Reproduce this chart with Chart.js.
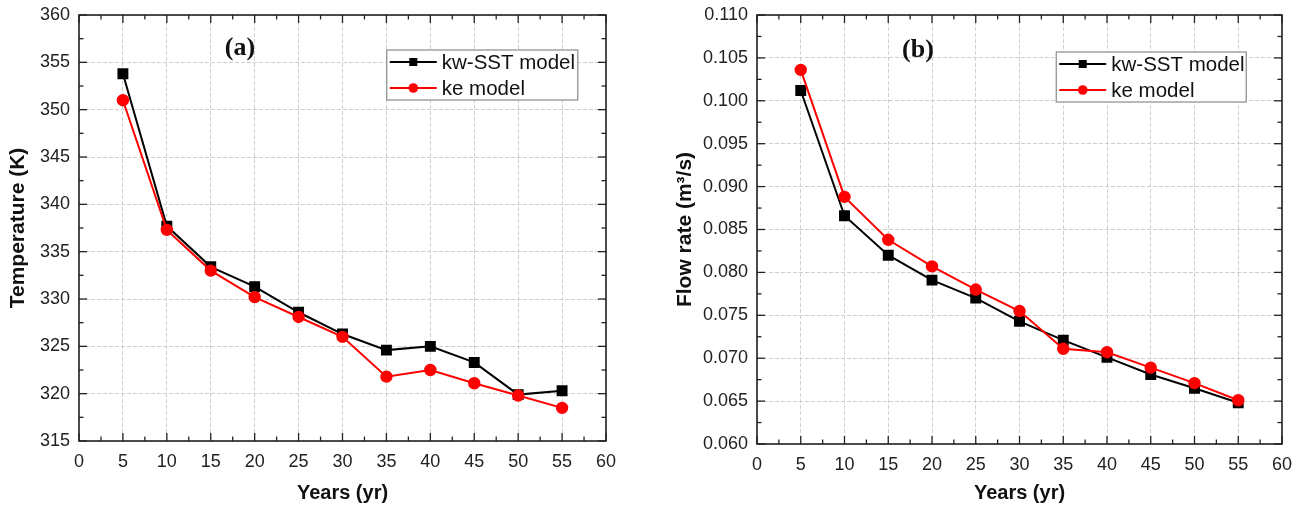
<!DOCTYPE html>
<html>
<head>
<meta charset="utf-8">
<script src="https://cdn.jsdelivr.net/npm/chart.js@4.4.1/dist/chart.umd.min.js"></script>
<style>
  html, body { margin: 0; padding: 0; background: #fff; }
  #wrap { position: relative; width: 1304px; height: 505px; overflow: hidden; }
  .panel { position: absolute; top: 0; }
  #pa { left: 0; }
  #pb { left: 664px; }
</style>
</head>
<body>
<div id="wrap">
  <div class="panel" id="pa"><canvas id="ca" width="640" height="505"></canvas></div>
  <div class="panel" id="pb"><canvas id="cb" width="640" height="505"></canvas></div>
</div>
<script>
// Simulation years
const years = [5, 10, 15, 20, 25, 30, 35, 40, 45, 50, 55];

// Outlet temperature (K)
const tempSST = [353.8, 337.7, 333.4, 331.3, 328.6, 326.3, 324.6, 325.0, 323.3, 319.9, 320.3];
const tempKE  = [351.0, 337.3, 333.0, 330.2, 328.1, 326.0, 321.8, 322.5, 321.1, 319.8, 318.5];

// Flow rate (m3/s)
const flowSST = [0.1012, 0.0866, 0.0820, 0.0791, 0.0770, 0.0743, 0.0721, 0.0701, 0.0681, 0.0665, 0.0648];
const flowKE  = [0.1036, 0.0888, 0.0838, 0.0807, 0.0780, 0.0755, 0.0711, 0.0707, 0.0689, 0.0671, 0.0651];

const seriesNames = ['kw-SST model', 'ke model'];
const panelTags = ['(a)', '(b)'];

const SANS = '"Liberation Sans", Arial, Helvetica, sans-serif';
const SERIF = '"Liberation Serif", "Times New Roman", serif';
const AXIS = '#222';

const toXY = (xs, ys) => xs.map((x, i) => ({ x, y: ys[i] }));

// Closed frame with inward major/minor tick marks on all four sides
const frameTicks = {
  id: 'frameTicks',
  beforeDatasetsDraw(chart) {
    const { ctx, chartArea: a, scales: { x, y } } = chart;
    ctx.save();
    ctx.strokeStyle = AXIS;
    ctx.lineWidth = 1.6;
    ctx.strokeRect(a.left, a.top, a.right - a.left, a.bottom - a.top);
    ctx.lineWidth = 1.3;
    const seg = (x1, y1, x2, y2) => { ctx.beginPath(); ctx.moveTo(x1, y1); ctx.lineTo(x2, y2); ctx.stroke(); };
    const MAJ = 8, MIN = 4.5;
    x.ticks.forEach((t, i) => {
      const px = x.getPixelForValue(t.value);
      seg(px, a.bottom, px, a.bottom - MAJ);
      seg(px, a.top, px, a.top + MAJ);
      if (i < x.ticks.length - 1) {
        const pm = x.getPixelForValue((t.value + x.ticks[i + 1].value) / 2);
        seg(pm, a.bottom, pm, a.bottom - MIN);
        seg(pm, a.top, pm, a.top + MIN);
      }
    });
    y.ticks.forEach((t, i) => {
      const py = y.getPixelForValue(t.value);
      seg(a.left, py, a.left + MAJ, py);
      seg(a.right, py, a.right - MAJ, py);
      if (i < y.ticks.length - 1) {
        const pm = y.getPixelForValue((t.value + y.ticks[i + 1].value) / 2);
        seg(a.left, pm, a.left + MIN, pm);
        seg(a.right, pm, a.right - MIN, pm);
      }
    });
    ctx.restore();
  }
};

// Boxed legend with line-through-marker samples, plus the panel tag
const boxLegend = {
  id: 'boxLegend',
  afterDraw(chart, args, o) {
    const { ctx, chartArea: a } = chart;
    const bx = a.left + o.fx * (a.right - a.left);
    const by = a.top + o.dy;
    const bw = o.w, bh = o.h;
    ctx.save();
    ctx.fillStyle = '#fff';
    ctx.fillRect(bx, by, bw, bh);
    ctx.strokeStyle = '#8a8a8a';
    ctx.lineWidth = 1.2;
    ctx.strokeRect(bx, by, bw, bh);
    ctx.font = '20.5px ' + SANS;
    ctx.textBaseline = 'middle';
    chart.data.datasets.forEach((ds, i) => {
      const ry = by + 12 + i * 26;
      const x1 = bx + 3, x2 = bx + 50, xm = (x1 + x2) / 2;
      ctx.strokeStyle = ds.borderColor;
      ctx.lineWidth = 2;
      ctx.beginPath(); ctx.moveTo(x1, ry); ctx.lineTo(x2, ry); ctx.stroke();
      ctx.fillStyle = ds.pointBackgroundColor;
      if (ds.pointStyle === 'rect') {
        ctx.fillRect(xm - 4, ry - 4, 8, 8);
      } else {
        ctx.beginPath(); ctx.arc(xm, ry, 4.8, 0, Math.PI * 2); ctx.fill();
      }
      ctx.fillStyle = '#111';
      ctx.fillText(ds.label, bx + 55, ry + 1);
    });
    ctx.font = 'bold 26px ' + SERIF;
    ctx.fillStyle = '#111';
    ctx.textAlign = 'center';
    ctx.textBaseline = 'middle';
    ctx.fillText(o.tag, a.left + o.tagX, a.top + o.tagY);
    ctx.restore();
  }
};

function makeChart(id, ySST, yKE, yOpts, axisW, axisH, padRight, legendOpts) {
  return new Chart(document.getElementById(id), {
    type: 'line',
    data: {
      datasets: [
        {
          label: seriesNames[0], data: toXY(years, ySST),
          borderColor: '#000', backgroundColor: '#000', pointBackgroundColor: '#000',
          pointBorderColor: '#000', pointStyle: 'rect', pointRadius: 6.3, borderWidth: 2,
          order: 1
        },
        {
          label: seriesNames[1], data: toXY(years, yKE),
          borderColor: '#ff0000', backgroundColor: '#ff0000', pointBackgroundColor: '#ff0000',
          pointBorderColor: '#ff0000', pointStyle: 'circle', pointRadius: 5.2, borderWidth: 2,
          order: 0
        }
      ]
    },
    options: {
      responsive: false,
      animation: false,
      layout: { padding: { left: 0, right: padRight, top: 15, bottom: 0 } },
      plugins: { legend: { display: false }, tooltip: { enabled: false }, boxLegend: legendOpts },
      scales: {
        x: {
          type: 'linear', min: 0, max: 60,
          ticks: { stepSize: 5, color: AXIS, padding: 10, font: { family: SANS, size: 18 } },
          grid: { color: '#cfcfcf', lineWidth: 1, drawTicks: false },
          border: { display: false, dash: [4, 2] },
          title: { display: true, text: 'Years (yr)', color: '#111', padding: { top: 2, bottom: 0 },
                   font: { family: SANS, size: 20, weight: 'bold' } },
          afterFit: s => { s.height = axisH; }
        },
        y: Object.assign({
          type: 'linear',
          grid: { color: '#cfcfcf', lineWidth: 1, drawTicks: false },
          border: { display: false, dash: [4, 2] },
          afterFit: s => { s.width = axisW; s.paddingTop = 0; s.paddingBottom = 0; }
        }, yOpts)
      }
    },
    plugins: [frameTicks, boxLegend]
  });
}

makeChart('ca', tempSST, tempKE, {
  min: 315, max: 360,
  ticks: { stepSize: 5, color: AXIS, padding: 9, font: { family: SANS, size: 18 } },
  title: { display: true, text: 'Temperature (K)', color: '#111', padding: { top: 6, bottom: 0 },
           font: { family: SANS, size: 21, weight: 'bold' } }
}, 79, 64, 34, { fx: 0.584, dy: 35, w: 191, h: 50, tag: panelTags[0], tagX: 161, tagY: 33 });

makeChart('cb', flowSST, flowKE, {
  min: 0.060, max: 0.110,
  ticks: { stepSize: 0.005, color: AXIS, padding: 9, font: { family: SANS, size: 18 },
           callback: v => v.toFixed(3) },
  title: { display: true, text: 'Flow rate (m³/s)', color: '#111', padding: { top: 9, bottom: 0 },
           font: { family: SANS, size: 21, weight: 'bold' } }
}, 93, 61, 22, { fx: 0.57, dy: 37, w: 190, h: 50, tag: panelTags[1], tagX: 161, tagY: 35 });
</script>
</body>
</html>
